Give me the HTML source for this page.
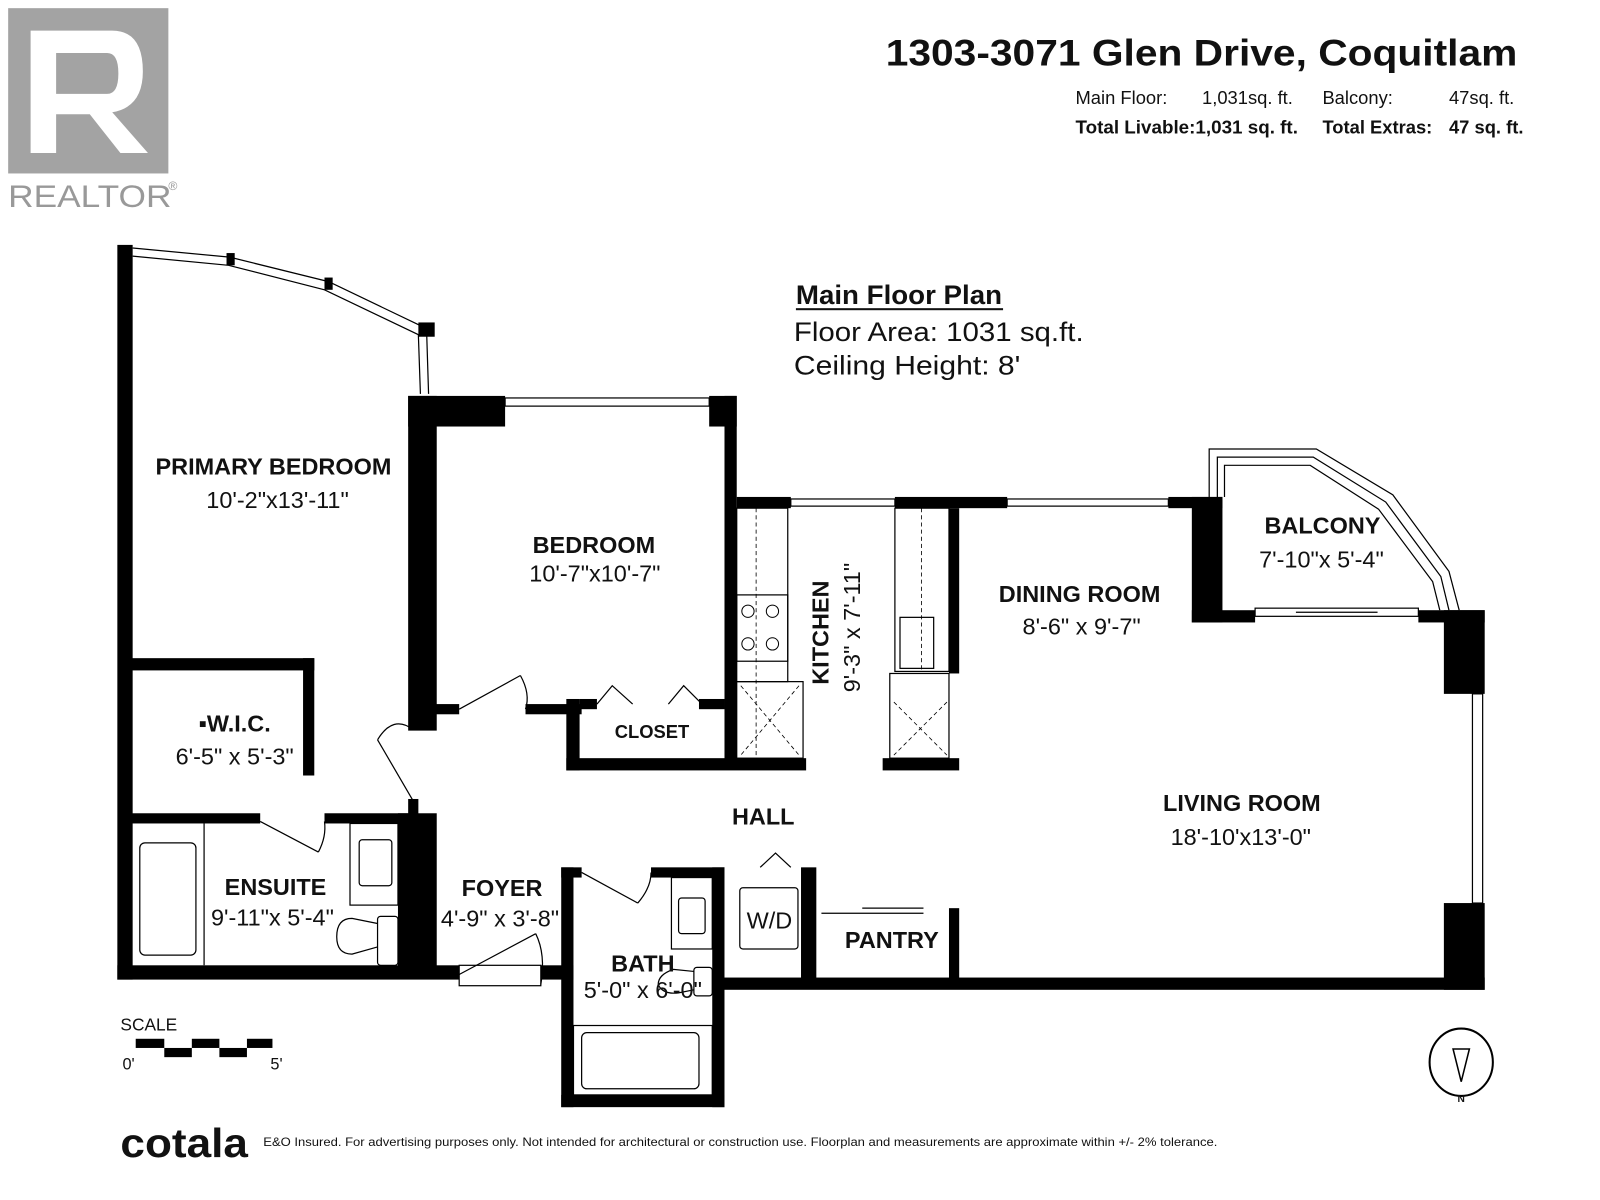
<!DOCTYPE html>
<html><head><meta charset="utf-8"><style>
html,body{margin:0;padding:0;background:#fff;}
svg{display:block;}
text{font-family:"Liberation Sans",sans-serif;fill:#111;}
.b{font-weight:bold;}
</style></head><body>
<svg width="1600" height="1200" viewBox="0 0 1568 1176" preserveAspectRatio="none" xmlns="http://www.w3.org/2000/svg">
<rect x="8" y="8" width="157" height="162" fill="#a3a3a3"/>
<path d="M30 30 H110 Q140 30 140 70 Q140 105 110 110 L145 150 H118 L88 112 H55 V150 H30 Z M55 52 V92 H105 Q116 92 116 72 Q116 52 105 52 Z" fill="#fff"/>
<text x="8" y="203" font-size="31" textLength="160" lengthAdjust="spacingAndGlyphs" style="fill:#999">REALTOR</text>
<text x="165" y="186" font-size="12" style="fill:#999">®</text>
<text x="868" y="64" font-size="36" class="b" textLength="619" lengthAdjust="spacingAndGlyphs">1303-3071 Glen Drive, Coquitlam</text>
<text x="1054" y="102" font-size="18">Main Floor:</text>
<text x="1178" y="102" font-size="18">1,031sq. ft.</text>
<text x="1296" y="102" font-size="18">Balcony:</text>
<text x="1420" y="102" font-size="18">47sq. ft.</text>
<text x="1054" y="131" font-size="18" class="b" textLength="218" lengthAdjust="spacingAndGlyphs">Total Livable:1,031 sq. ft.</text>
<text x="1296" y="131" font-size="18" class="b">Total Extras:</text>
<text x="1420" y="131" font-size="18" class="b">47 sq. ft.</text>
<text x="780" y="298" font-size="26" class="b" textLength="202" lengthAdjust="spacingAndGlyphs">Main Floor Plan</text>
<rect x="780" y="302" width="203" height="2" fill="#111"/>
<text x="778" y="334" font-size="26" textLength="284" lengthAdjust="spacingAndGlyphs">Floor Area: 1031 sq.ft.</text>
<text x="778" y="367" font-size="26" textLength="222" lengthAdjust="spacingAndGlyphs">Ceiling Height: 8'</text>

<g fill="#000">
<rect x="115" y="240" width="15" height="720"/>
<rect x="115" y="946" width="335" height="14"/>
<rect x="530" y="946" width="32" height="14"/>
<rect x="400" y="388" width="28" height="328"/>
<rect x="400" y="388" width="95" height="30"/>
<rect x="695" y="388" width="27" height="30"/>
<rect x="710" y="388" width="12" height="357"/>
<rect x="405" y="690" width="45" height="10"/>
<rect x="515" y="690" width="55" height="10"/>
<rect x="555" y="685" width="13" height="70"/>
<rect x="555" y="743" width="235" height="12"/>
<rect x="568" y="685" width="17" height="10"/>
<rect x="685" y="685" width="25" height="10"/>
<rect x="722" y="487" width="53" height="11"/>
<rect x="877" y="487" width="110" height="11"/>
<rect x="1145" y="487" width="53" height="11"/>
<rect x="1168" y="487" width="30" height="123"/>
<rect x="1168" y="598" width="62" height="12"/>
<rect x="930" y="498" width="10" height="162"/>
<rect x="865" y="743" width="75" height="12"/>
<rect x="1390" y="598" width="65" height="12"/>
<rect x="1415" y="598" width="40" height="82"/>
<rect x="1415" y="885" width="40" height="85"/>
<rect x="698" y="958" width="757" height="12"/>
<rect x="550" y="850" width="12" height="235"/>
<rect x="550" y="1073" width="160" height="12"/>
<rect x="698" y="850" width="12" height="235"/>
<rect x="550" y="850" width="20" height="10"/>
<rect x="638" y="850" width="72" height="10"/>
<rect x="785" y="850" width="15" height="110"/>
<rect x="930" y="890" width="10" height="70"/>
<rect x="125" y="797" width="130" height="10"/>
<rect x="318" y="797" width="82" height="10"/>
<rect x="390" y="797" width="38" height="151"/>
<rect x="400" y="783" width="10" height="20"/>
<rect x="125" y="645" width="183" height="12"/>
<rect x="297" y="645" width="11" height="115"/>
<rect x="222" y="248" width="8" height="12"/>
<rect x="318" y="272" width="8" height="12"/>
<rect x="410" y="316" width="16" height="14"/>
</g>
<g fill="none" stroke="#000" stroke-width="1.2">
<polyline points="130,243 225,252 322,276 418,322 420,386"/>
<polyline points="130,251 224,260 318,284 410,328 412,386"/>
<rect x="495" y="390" width="200" height="8"/>
<rect x="775" y="489" width="102" height="7"/>
<rect x="987" y="489" width="158" height="7"/>
<polyline points="1185,487 1185,440 1290,440 1365,485 1420,560 1430,598"/>
<polyline points="1193,487 1193,448 1287,448 1358,492 1412,565 1420,598"/>
<polyline points="1200,487 1200,456 1284,456 1351,499 1404,570 1411,598"/>
<rect x="1230" y="596" width="160" height="8"/>
<line x1="1270" y1="600" x2="1350" y2="600"/>
<rect x="1443" y="680" width="10" height="205"/>
<rect x="722" y="498" width="50" height="170"/>
<rect x="722" y="583" width="50" height="65"/>
<rect x="722" y="668" width="65" height="75"/>
<rect x="877" y="498" width="53" height="160"/>
<rect x="882" y="605" width="33" height="50"/>
<rect x="872" y="660" width="58" height="83"/>
<rect x="137" y="826" width="55" height="110" rx="5"/>
<line x1="200" y1="807" x2="200" y2="946"/>
<rect x="343" y="807" width="47" height="80"/>
<rect x="352" y="823" width="32" height="45" rx="3"/>
<rect x="370" y="898" width="20" height="48" rx="3"/>
<path d="M370 905 L345 900 Q330 900 330 918 Q330 935 345 935 L370 928"/>
<rect x="658" y="860" width="40" height="70"/>
<rect x="665" y="880" width="26" height="35" rx="3"/>
<rect x="680" y="948" width="18" height="28" rx="3"/>
<path d="M680 952 L660 950 Q645 955 645 965 Q650 975 665 973 L680 970"/>
<rect x="562" y="1005" width="136" height="68"/>
<rect x="570" y="1012" width="115" height="55" rx="5"/>
<rect x="725" y="870" width="57" height="60" rx="3"/>
<line x1="450" y1="695" x2="510" y2="662"/>
<path d="M510 662 Q520 680 515 695"/>
<line x1="405" y1="785" x2="370" y2="725"/>
<path d="M370 725 Q385 700 405 715"/>
<line x1="255" y1="805" x2="312" y2="835"/>
<path d="M312 835 Q320 820 318 805"/>
<line x1="450" y1="955" x2="525" y2="915"/>
<path d="M525 915 Q535 935 530 965"/>
<rect x="450" y="946" width="80" height="20"/>
<line x1="570" y1="855" x2="625" y2="885"/>
<path d="M625 885 Q638 870 638 855"/>
<polyline points="585,690 600,672 620,690"/>
<polyline points="655,690 670,672 688,690"/>
<polyline points="745,850 760,836 775,850"/>
<line x1="805" y1="895" x2="905" y2="895"/>
<line x1="845" y1="890" x2="905" y2="890"/>
</g>
<g fill="none" stroke="#000" stroke-width="0.8" stroke-dasharray="4,3">
<line x1="741" y1="498" x2="741" y2="743"/>
<line x1="903" y1="498" x2="903" y2="658"/>
<line x1="726" y1="672" x2="783" y2="740"/>
<line x1="783" y1="672" x2="726" y2="740"/>
<line x1="876" y1="688" x2="928" y2="740"/>
<line x1="928" y1="688" x2="876" y2="740"/>
</g>
<g fill="none" stroke="#000" stroke-width="1">
<circle cx="733" cy="599" r="6"/><circle cx="757" cy="599" r="6"/>
<circle cx="733" cy="631" r="6"/><circle cx="757" cy="631" r="6"/>
</g>
<g font-size="23" text-anchor="middle">
<text x="268" y="465" class="b">PRIMARY BEDROOM</text>
<text x="272" y="498">10'-2"x13'-11"</text>
<text x="582" y="542" class="b">BEDROOM</text>
<text x="583" y="570">10'-7"x10'-7"</text>
<text x="1058" y="590" class="b">DINING ROOM</text>
<text x="1060" y="622">8'-6" x 9'-7"</text>
<text x="1296" y="523" class="b">BALCONY</text>
<text x="1295" y="556">7'-10"x 5'-4"</text>
<text x="230" y="717" class="b">▪W.I.C.</text>
<text x="230" y="749">6'-5" x 5'-3"</text>
<text x="1217" y="795" class="b">LIVING ROOM</text>
<text x="1216" y="828">18'-10'x13'-0"</text>
<text x="748" y="808" class="b">HALL</text>
<text x="270" y="877" class="b">ENSUITE</text>
<text x="267" y="907">9'-11"x 5'-4"</text>
<text x="492" y="878" class="b">FOYER</text>
<text x="490" y="908">4'-9" x 3'-8"</text>
<text x="630" y="952" class="b">BATH</text>
<text x="630" y="978">5'-0" x 6'-0"</text>
<text x="874" y="929" class="b">PANTRY</text>
<text x="754" y="910">W/D</text>
<text x="639" y="723" font-size="18" class="b">CLOSET</text>
<text transform="translate(812,620) rotate(-90)" class="b">KITCHEN</text>
<text transform="translate(843,615) rotate(-90)">9'-3" x 7'-11"</text>
</g>
<text x="118" y="1010" font-size="17">SCALE</text>
<g fill="#000">
<rect x="133" y="1018" width="28" height="9"/><rect x="161" y="1027" width="27" height="9"/>
<rect x="188" y="1018" width="27" height="9"/><rect x="215" y="1027" width="27" height="9"/>
<rect x="242" y="1018" width="25" height="9"/>
</g>
<text x="120" y="1048" font-size="16">0'</text>
<text x="265" y="1048" font-size="16">5'</text>
<ellipse cx="1432" cy="1041" rx="31" ry="33" fill="none" stroke="#000" stroke-width="2"/>
<polygon points="1424,1028 1440,1028 1432,1060" fill="none" stroke="#000" stroke-width="1.5"/>
<text x="1432" y="1080" font-size="10" text-anchor="middle" class="b">N</text>
<text x="118" y="1134" font-size="40" class="b" textLength="125" lengthAdjust="spacingAndGlyphs">cotala</text>
<text x="258" y="1123" font-size="12" textLength="935" lengthAdjust="spacingAndGlyphs">E&amp;O Insured. For advertising purposes only. Not intended for architectural or construction use. Floorplan and measurements are approximate within +/- 2% tolerance.</text>
</svg>
</body></html>
